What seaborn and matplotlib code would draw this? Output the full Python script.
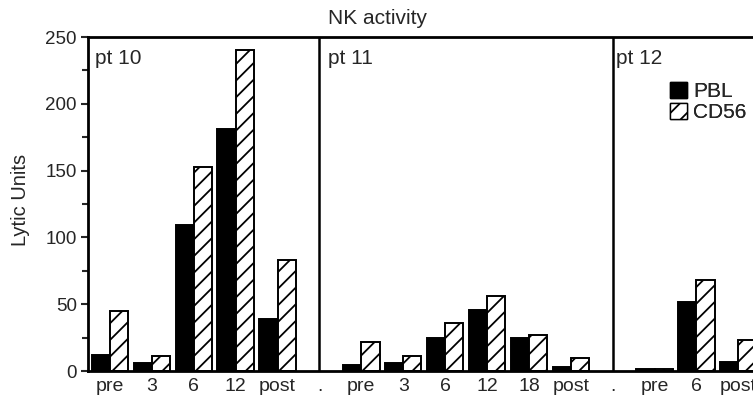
import pandas as pd
import matplotlib
matplotlib.use('Agg')
import matplotlib.pyplot as plt
import matplotlib.patches as mpatches
from matplotlib.ticker import MultipleLocator
import seaborn as sns

# values (Lytic Units)
pt10_labels = ['pre', '3', '6', '12', 'post']
pt10_pbl = [12, 6, 109, 181, 39]
pt10_cd56 = [45, 11, 153, 240, 83]

pt11_labels = ['pre', '3', '6', '12', '18', 'post']
pt11_pbl = [4.5, 6, 24.5, 45.5, 24.5, 3]
pt11_cd56 = [21.5, 11, 36, 56, 27, 10]

pt12_labels = ['pre', '6', 'post']
pt12_pbl = [1.5, 52, 6.5]
pt12_cd56 = [1.5, 68, 23]

patients = ['pt 10', 'pt 11', 'pt 12']
cells = ['PBL', 'CD56']

# build long table; one empty slot (tick label ".") between patients
groups = [(pt10_labels, pt10_pbl, pt10_cd56),
          (pt11_labels, pt11_pbl, pt11_cd56),
          (pt12_labels, pt12_pbl, pt12_cd56)]
rows = []
tick_labels = []
divider_slots = []
slot = 0
for gi, (labs, pbl, cd56) in enumerate(groups):
    for lab, a, b in zip(labs, pbl, cd56):
        rows.append({'slot': slot, 'cell': 'PBL', 'value': a})
        rows.append({'slot': slot, 'cell': 'CD56', 'value': b})
        tick_labels.append(lab)
        slot += 1
    if gi < len(groups) - 1:
        tick_labels.append('.')
        divider_slots.append(slot)
        slot += 1
df = pd.DataFrame(rows)

sns.set_style('ticks')
plt.rcParams['font.family'] = ['Liberation Sans', 'DejaVu Sans']
plt.rcParams['hatch.linewidth'] = 1.3

fig = plt.figure(figsize=(7.53, 3.98), dpi=100)
ax = fig.add_axes([88 / 753, 1 - 371 / 398, 1 - 88 / 753, (371 - 37) / 398])

sns.barplot(data=df, x='slot', y='value', hue='cell', order=list(range(len(tick_labels))),
            hue_order=cells, palette=['black', 'white'], width=0.87,
            edgecolor='black', linewidth=1.4, saturation=1, ax=ax, legend=False)

for bar in ax.containers[1]:
    bar.set_hatch('//')
    bar.set_edgecolor('black')

for d in divider_slots:
    ax.axvline(d, color='black', lw=1.8, zorder=3)

ax.set_xlim(-0.525, 15.35)
ax.set_ylim(0, 250)
ax.set_xticks(range(len(tick_labels)))
ax.set_xticklabels(tick_labels, fontsize=14)
ax.tick_params(axis='x', length=0, pad=5)
ax.yaxis.set_major_locator(MultipleLocator(50))
ax.yaxis.set_minor_locator(MultipleLocator(25))
ax.tick_params(axis='y', which='major', direction='out', length=5, width=1.5, labelsize=13.5, pad=3)
ax.tick_params(axis='y', which='minor', direction='out', length=4, width=1.5)
ax.set_xlabel('')
ax.set_ylabel('')

for side in ['left', 'bottom', 'top']:
    ax.spines[side].set_linewidth(2)
    ax.spines[side].set_color('black')
ax.spines['right'].set_visible(False)

# panel names just right of each panel's left edge
label_x = [-0.35, divider_slots[0] + 0.2, divider_slots[1] + 0.08]
for name, x0 in zip(patients, label_x):
    ax.text(x0, 241, name, fontsize=15, ha='left', va='top')

handles = [mpatches.Patch(facecolor='black', edgecolor='black', label='PBL'),
           mpatches.Patch(facecolor='white', edgecolor='black', hatch='//', label='CD56')]
leg = ax.legend(handles=handles, loc='upper left',
                bbox_to_anchor=((670 - 88) / 665, 1 - 45 / 334),
                bbox_transform=ax.transAxes, frameon=False, fontsize=15,
                handlelength=0.8, handleheight=0.8, handletextpad=0.3,
                labelspacing=0.1, borderpad=0, borderaxespad=0)
ax.add_artist(leg)

fig.text(378 / 753, 1 - 19 / 398, 'NK activity', fontsize=15, ha='center', va='center')
fig.text(21 / 753, 1 - 200 / 398, 'Lytic Units', fontsize=14.5, ha='center', va='center', rotation=90)

fig.savefig('out.png', dpi=100)
